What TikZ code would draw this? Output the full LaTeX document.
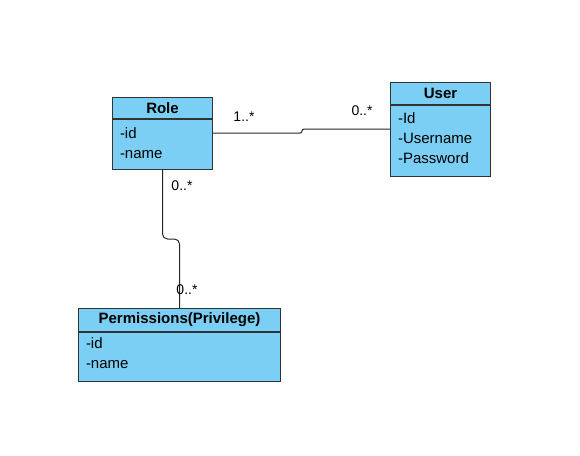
\documentclass[tikz,border=0pt]{standalone}
\usepackage{fontspec}
\setmainfont{Liberation Sans}
\definecolor{classfill}{HTML}{7BCFF4}
\definecolor{classline}{HTML}{333333}
\tikzset{
  classhead/.style={draw=classline, fill=classfill, line width=1pt, anchor=north west,
    minimum height=#1, inner sep=0pt, font=\fontsize{15}{20}\selectfont\bfseries},
  classbody/.style 2 args={draw=classline, fill=classfill, line width=1pt, anchor=north west,
    text height=#1, text depth=#2, inner xsep=7.5pt, inner ysep=0pt, align=left,
    font=\fontsize{15}{20}\selectfont},
  mult/.style={font=\fontsize{14}{16}\selectfont, inner sep=0pt},
  assoc/.style={draw=black!85, line width=1pt}
}
\begin{document}
\begin{tikzpicture}[x=1pt, y=-1pt]
  \useasboundingbox (0,0) rectangle (580,455);
  % Role
  \node[classhead=21pt, minimum width=100pt] (rolehead) at (112,97) {Role};
  \node[classbody={19pt}{31pt}, text width=85pt] (rolebody) at (rolehead.south west) {-id\\-name};
  % User
  \node[classhead=22pt, minimum width=100pt] (userhead) at (390,82) {User};
  \node[classbody={18pt}{53pt}, text width=85pt] (userbody) at (userhead.south west) {-Id\\-Username\\-Password};
  % Permissions
  \node[classhead=23pt, minimum width=202pt] (permhead) at (78,308) {Permissions(Privilege)};
  \node[classbody={16pt}{33pt}, text width=187pt] (permbody) at (permhead.south west) {-id\\-name};
  % Verbindungen
  \draw[assoc, rounded corners=2pt] ([yshift=-14pt]rolebody.north east) -- ++(89,0) |- ([yshift=-24pt]userbody.north west);
  \draw[assoc, rounded corners=5pt] (rolebody.south) -- ++(0,69) -| (permhead.north);
  % Multiplizitaeten
  \node[mult] (m1) at (244,117) {1..*};
  \node[mult] (m2) at (362,111) {0..*};
  \node[mult] (m3) at (182,186) {0..*};
  \node[mult] (m4) at (187,290) {0..*};
\end{tikzpicture}
\end{document}
